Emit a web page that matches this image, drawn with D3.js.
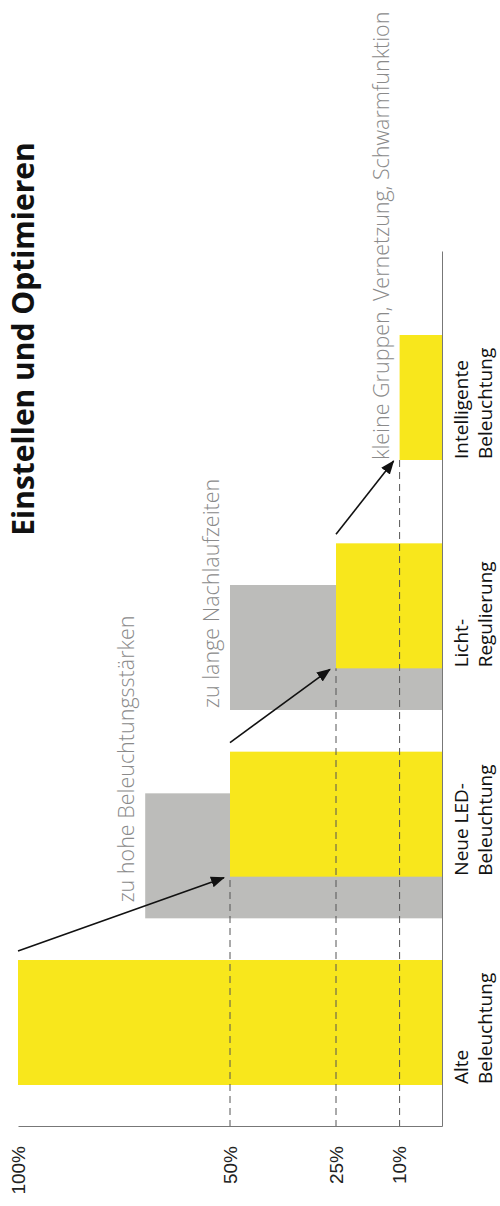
<!DOCTYPE html>
<html>
<head>
<meta charset="utf-8">
<script src="https://cdn.jsdelivr.net/npm/d3@7"></script>
<style>
  html, body { margin: 0; padding: 0; background: #fff; }
  svg { display: block; }
</style>
</head>
<body>
<div id="chart"></div>
<script>
const categories = ['Alte Beleuchtung', 'Neue LED-Beleuchtung', 'Licht-Regulierung', 'Intelligente Beleuchtung'];
const categoryLines = [['Alte', 'Beleuchtung'], ['Neue LED-', 'Beleuchtung'], ['Licht-', 'Regulierung'], ['Intelligente', 'Beleuchtung']];
const usedLight = [100, 50, 25, 10];
const wastedLight = [null, 70, 50, null];
const notes = ['zu hohe Beleuchtungsstärken', 'zu lange Nachlaufzeiten', 'kleine Gruppen, Vernetzung, Schwarmfunktion'];
const tickValues = [100, 50, 25, 10];
const title = 'Einstellen und Optimieren';

const pageW = 500;
const pageH = 1206;
const yellow = '#f8e71c';
const grey = '#bcbcba';
const textFont = "'Open Sans', sans-serif";

const rows = categories.map((c, i) => ({
  cat: c,
  used: usedLight[i],
  waste: wastedLight[i],
  lines: categoryLines[i],
}));

const svg = d3
  .select('#chart')
  .append('svg')
  .attr('width', pageW)
  .attr('height', pageH);

svg.append('rect').attr('width', pageW).attr('height', pageH).attr('fill', '#fff');

// the chart is laid out in landscape and turned a quarter to the left
const g = svg.append('g').attr('transform', 'translate(0,' + pageH + ') rotate(-90)');

const x = d3
  .scaleBand()
  .domain(categories)
  .range([79, 954])
  .paddingInner(0.4)
  .paddingOuter(0.3)
  .align(0.336);
const y = d3.scaleLinear().domain([0, 100]).range([442, 18]);
const bw = x.bandwidth();
const shift = x.step() * 0.2;

const defs = svg.append('defs');
defs
  .append('marker')
  .attr('id', 'head')
  .attr('markerUnits', 'userSpaceOnUse')
  .attr('viewBox', '0 -6 14 12')
  .attr('refX', 13)
  .attr('refY', 0)
  .attr('markerWidth', 14)
  .attr('markerHeight', 12)
  .attr('orient', 'auto')
  .append('path')
  .attr('d', 'M0,-5.5L14,0L0,5.5Z')
  .attr('fill', '#111');

// grey: wasted light, a little to the left of the yellow bar
g.selectAll('.waste')
  .data(rows.filter((d) => d.waste != null))
  .enter()
  .append('rect')
  .attr('class', 'waste')
  .attr('x', (d) => x(d.cat) - shift)
  .attr('width', bw)
  .attr('y', (d) => y(d.waste))
  .attr('height', (d) => y(0) - y(d.waste))
  .attr('fill', grey);

g.selectAll('.used')
  .data(rows)
  .enter()
  .append('rect')
  .attr('class', 'used')
  .attr('x', (d) => x(d.cat))
  .attr('width', bw)
  .attr('y', (d) => y(d.used))
  .attr('height', (d) => y(0) - y(d.used))
  .attr('fill', yellow);

// dashed guides from the value axis to each step
g.selectAll('.guide')
  .data(rows.slice(1))
  .enter()
  .append('line')
  .attr('class', 'guide')
  .attr('x1', x.range()[0])
  .attr('x2', (d) => x(d.cat))
  .attr('y1', (d) => y(d.used))
  .attr('y2', (d) => y(d.used))
  .attr('stroke', '#555')
  .attr('stroke-width', 1)
  .attr('stroke-dasharray', '7,5');

// axes
g.append('g')
  .attr('transform', 'translate(0,' + y(0) + ')')
  .call(d3.axisBottom(x).tickSize(0).tickSizeOuter(0))
  .call((a) => a.selectAll('.tick').remove())
  .call((a) => a.select('.domain').attr('stroke', '#777'));

g.append('g')
  .attr('transform', 'translate(' + x.range()[0] + ',0)')
  .call(
    d3
      .axisLeft(y)
      .tickValues(tickValues)
      .tickSize(0)
      .tickSizeOuter(0)
      .tickPadding(19)
      .tickFormat((d) => d + '%')
  )
  .attr('font-family', "'Liberation Sans', Arial, sans-serif")
  .attr('font-size', 19)
  .call((a) => a.select('.domain').attr('stroke', '#777'))
  .call((a) => a.selectAll('.tick text').attr('fill', '#222'));

// arrows from one step to the next
const steps = d3.pairs(rows);
g.selectAll('.arrow')
  .data(steps)
  .enter()
  .append('line')
  .attr('class', 'arrow')
  .attr('x1', (d) => x(d[0].cat) + bw + 9)
  .attr('y1', (d) => y(d[0].used))
  .attr('x2', (d) => x(d[1].cat) - 1)
  .attr('y2', (d) => y(d[1].used) - 6)
  .attr('stroke', '#111')
  .attr('stroke-width', 1.6)
  .attr('marker-end', 'url(#head)');

// annotations sit above the bar they explain
const nudge = [16, 2, 0];
g.selectAll('.note')
  .data(steps)
  .enter()
  .append('text')
  .attr('class', 'note')
  .attr('x', (d, i) => x(d[1].cat) - (d[1].waste != null ? shift : 0) + nudge[i])
  .attr('y', (d) => y(Math.max(d[1].used, d[1].waste || 0)) - 11)
  .attr('font-family', textFont)
  .attr('font-weight', 300)
  .attr('font-size', 21.5)
  .attr('fill', '#8a8a8a')
  .text((d, i) => notes[i]);

// category labels under the baseline
const labels = g
  .selectAll('.cat')
  .data(rows)
  .enter()
  .append('text')
  .attr('class', 'cat')
  .attr('font-family', textFont)
  .attr('font-size', 19)
  .attr('fill', '#111');

labels
  .selectAll('tspan')
  .data((d) => d.lines.map((t) => ({ t, cat: d.cat })))
  .enter()
  .append('tspan')
  .attr('x', (d) => x(d.cat) + 1)
  .attr('y', (d, i) => y(0) + 26 + i * 24)
  .text((d) => d.t);

g.append('text')
  .attr('x', 867)
  .attr('y', 34)
  .attr('text-anchor', 'middle')
  .attr('font-family', textFont)
  .attr('font-weight', 700)
  .attr('font-size', 30)
  .attr('fill', '#111')
  .text(title);
</script>
</body>
</html>
